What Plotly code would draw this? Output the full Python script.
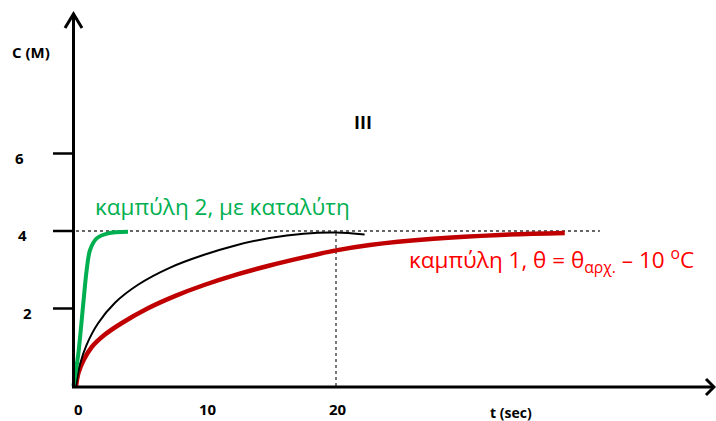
import plotly.graph_objects as go

# ---------------- data ----------------
green_t = [-0.2, 0.18, 0.56, 0.82, 1.08, 1.59, 2.46, 4.0]
green_c = [0.0, 0.84, 2.13, 2.99, 3.51, 3.81, 3.94, 3.98]

black_t = [0.0, 0.3, 0.8, 1.7, 3.0, 4.8, 7.2, 9.8, 12.4, 14.9, 17.5, 20.0, 22.2]
black_c = [0.0, 0.55, 1.05, 1.62, 2.15, 2.62, 3.05, 3.38, 3.64, 3.82, 3.93, 3.96, 3.91]

red_t = [0.0, 0.2, 0.6, 1.2, 2.2, 3.5, 5.5, 7.6, 9.8, 12.4, 14.9, 17.5, 20.0, 22.6, 27.5, 32.6, 37.6]
red_c = [0.0, 0.35, 0.68, 1.0, 1.32, 1.62, 2.0, 2.32, 2.6, 2.88, 3.11, 3.32, 3.5, 3.64, 3.8, 3.9, 3.95]

x_ticks = [0, 10, 20]
y_ticks = [2, 4, 6]
c_final = 4
t_mark = 20
t_guide_end = 40.3

# ---------------- geometry (pixel mapping) ----------------
W, H = 716, 421
X0, SX = 76.0, 13.0      # pixel of t=0, px per second
Y0, SY = 386.0, 38.75    # pixel of c=0, px per M

def dx(px):
    return (px - X0) / SX

def dy(py):
    return (Y0 - py) / SY

def px_of(t):
    return X0 + SX * t

def py_of(c):
    return Y0 - SY * c

FONT = "Open Sans"
GREEN = "#00B050"
RED_LINE = "#C00000"
RED_TEXT = "#FF0000"

fig = go.Figure()

# guide dotted lines
fig.add_trace(go.Scatter(x=[0, t_guide_end], y=[c_final, c_final], mode="lines",
                         line=dict(color="#333333", width=1.3, dash="dot"),
                         hoverinfo="skip", showlegend=False))
fig.add_trace(go.Scatter(x=[t_mark, t_mark], y=[0, black_c[11] - 0.02], mode="lines",
                         line=dict(color="#333333", width=1.3, dash="dot"),
                         hoverinfo="skip", showlegend=False))

# curves
fig.add_trace(go.Scatter(x=red_t, y=red_c, mode="lines",
                         line=dict(color=RED_LINE, width=4.5, shape="spline", smoothing=1.0),
                         showlegend=False))
fig.add_trace(go.Scatter(x=black_t, y=black_c, mode="lines",
                         line=dict(color="black", width=2, shape="spline", smoothing=1.0),
                         showlegend=False))
fig.add_trace(go.Scatter(x=green_t, y=green_c, mode="lines",
                         line=dict(color=GREEN, width=4, shape="spline", smoothing=0.9),
                         showlegend=False))

shapes = []
AX = dict(color="black", width=3)
# y axis with open arrow
shapes.append(dict(type="line", xref="x", yref="y", x0=dx(73.5), x1=dx(73.5),
                   y0=dy(388), y1=dy(14), line=AX))
shapes.append(dict(type="path", xref="x", yref="y",
                   path=f"M {dx(65)},{dy(28)} L {dx(73.5)},{dy(14)} L {dx(82)},{dy(28)}",
                   line=AX))
# x axis with open arrow
shapes.append(dict(type="line", xref="x", yref="y", x0=dx(72), x1=dx(714),
                   y0=dy(387), y1=dy(387), line=AX))
shapes.append(dict(type="path", xref="x", yref="y",
                   path=f"M {dx(706)},{dy(379)} L {dx(714)},{dy(387)} L {dx(706)},{dy(395)}",
                   line=AX))
# y tick marks
for v in y_ticks:
    shapes.append(dict(type="line", xref="x", yref="y", x0=dx(53), x1=dx(74),
                       y0=v, y1=v, line=dict(color="black", width=2.5)))

annotations = []

def add_text(text, px, py, size, color="black", bold=False, xanchor="center"):
    annotations.append(dict(text=f"<b>{text}</b>" if bold else text,
                            x=px / W, y=1 - py / H, xref="paper", yref="paper",
                            xanchor=xanchor, yanchor="middle", showarrow=False,
                            font=dict(family=FONT, size=size, color=color)))

# y tick labels (hand-placed offsets, as in the reference)
y_label_px = {2: 27, 4: 22, 6: 19}
for v in y_ticks:
    add_text(str(v), y_label_px[v], py_of(v) + 4, 15, bold=True)
# x tick labels
for v in x_ticks:
    add_text(str(v), px_of(v) + 2, 409, 15, bold=True)

add_text("t (sec)", 511, 412, 14, bold=True)
add_text("C (M)", 31, 52, 15, bold=True)
add_text("III", 363, 122, 18, bold=True)

add_text("καμπύλη 2, με καταλύτη", 93, 206, 22.5, color=GREEN, xanchor="left")
add_text("καμπύλη 1, θ = θ<sub>αρχ.</sub> – 10 <sup>o</sup>C", 407, 260, 22.5,
         color=RED_TEXT, xanchor="left")

fig.update_layout(
    width=W, height=H,
    margin=dict(l=0, r=0, t=0, b=0),
    paper_bgcolor="white", plot_bgcolor="white",
    xaxis=dict(range=[dx(0), dx(W)], visible=False, fixedrange=True),
    yaxis=dict(range=[dy(H), dy(0)], visible=False, fixedrange=True),
    shapes=shapes, annotations=annotations,
    showlegend=False,
)

fig.write_html("out.html", config={"displayModeBar": False},
               post_script="document.body.style.margin='0';document.body.style.overflow='hidden';")
